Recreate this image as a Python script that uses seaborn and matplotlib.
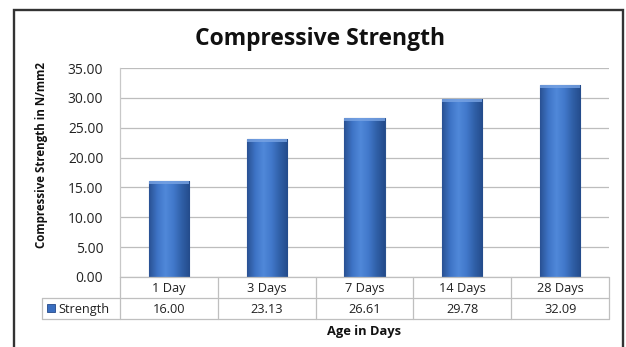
import numpy as np
import pandas as pd
import matplotlib
matplotlib.use("Agg")
import matplotlib.pyplot as plt
from matplotlib.patches import Rectangle
from matplotlib.lines import Line2D
from matplotlib.colors import LinearSegmentedColormap
import seaborn as sns

categories = ["1 Day", "3 Days", "7 Days", "14 Days", "28 Days"]
strength = [16.00, 23.13, 26.61, 29.78, 32.09]
series_name = "Strength"
yticks = [0, 5, 10, 15, 20, 25, 30, 35]

sns.set_theme(style="white")
plt.rcParams["font.family"] = ["Open Sans", "DejaVu Sans"]

W, H = 626, 347
fig = plt.figure(figsize=(W / 100, H / 100), dpi=100)
fig.patch.set_facecolor("white")

L, R, T, B = 120, 609, 68, 277
ax = fig.add_axes([L / W, 1 - B / H, (R - L) / W, (B - T) / H])

df = pd.DataFrame({"Age": categories, "Strength": strength})
sns.barplot(data=df, x="Age", y="Strength", ax=ax, width=0.41,
            color="#3A6EC0", edgecolor="#2A528F", linewidth=0.8, saturation=1)

# gradient shading on bars
cmap = LinearSegmentedColormap.from_list(
    "bar", ["#2A5294", "#3E74C6", "#5088D9", "#4279CB", "#3060A8", "#244C8C"])
grad = np.linspace(0, 1, 64).reshape(1, -1)
for p in ax.patches:
    x0, y0 = p.get_x(), p.get_y()
    w, h = p.get_width(), p.get_height()
    im = ax.imshow(grad, cmap=cmap, aspect="auto",
                   extent=[x0, x0 + w, y0, y0 + h], zorder=p.get_zorder() + 0.1)
    im.set_clip_path(p)
    ax.add_patch(Rectangle((x0, y0 + h - 0.45), w, 0.45, facecolor="#79A4E4",
                           edgecolor="none", zorder=p.get_zorder() + 0.2, alpha=0.8))
ax.set_xlim(-0.5, len(categories) - 0.5)
ax.set_ylim(0, 35)
ax.set_yticks(yticks)
ax.set_yticklabels([f"{v:.2f}" for v in yticks], fontsize=9.9, color="#222222")
ax.tick_params(axis="y", length=0, pad=12)
ax.set_xticks([])
ax.set_xlabel("")
ax.yaxis.grid(True, color="#BDBDBD", linewidth=0.9)
ax.set_axisbelow(True)
for s in ["top", "right", "bottom"]:
    ax.spines[s].set_visible(False)
ax.spines["left"].set_color("#C8C8C8")
ax.spines["left"].set_linewidth(0.9)

ax.set_ylabel("Compressive Strength in N/mm2", fontsize=8.3, fontweight="bold",
              color="#111111")
ax.yaxis.set_label_coords((48 - L) / (R - L), (B - 155) / (B - T))

# data table drawn below the axes (x in data units, y in pixels from top)
def fy(py):
    return 1 - py / H

tcolor = "#BFBFBF"
xl = 42 / W
edges_data = [i - 0.5 for i in range(len(categories) + 1)]
to_fig = lambda xd: fig.transFigure.inverted().transform(ax.transData.transform((xd, 0)))[0]
edges_fig = [to_fig(e) for e in edges_data]
# horizontal lines
fig.add_artist(Line2D([edges_fig[0], edges_fig[-1]], [fy(B), fy(B)], color=tcolor, lw=0.9))
fig.add_artist(Line2D([xl, edges_fig[-1]], [fy(298), fy(298)], color=tcolor, lw=0.9))
fig.add_artist(Line2D([xl, edges_fig[-1]], [fy(319), fy(319)], color=tcolor, lw=0.9))
# vertical lines
fig.add_artist(Line2D([xl, xl], [fy(298), fy(319)], color=tcolor, lw=0.9))
for e in edges_fig:
    fig.add_artist(Line2D([e, e], [fy(B), fy(319)], color=tcolor, lw=0.9))
for i, (cat, val) in enumerate(zip(categories, strength)):
    cx = to_fig(i)
    fig.text(cx, fy((B + 298) / 2 + 1), cat, ha="center", va="center",
             fontsize=9.2, color="#222222")
    fig.text(cx, fy((298 + 319) / 2 + 1), f"{val:.2f}", ha="center", va="center",
             fontsize=9.2, color="#222222")
fig.text(58 / W, fy((298 + 319) / 2 + 1), series_name, ha="left", va="center",
         fontsize=9.2, color="#222222")
fig.add_artist(Rectangle((47 / W, fy(312)), 8 / W, 8 / H, transform=fig.transFigure,
                         facecolor="#3A6EC0", edgecolor="#24498A", linewidth=0.6))

fig.text(320 / W, fy(39), "Compressive Strength", ha="center", va="center",
         fontsize=16.5, fontweight="bold", color="#111111")
fig.text(364 / W, fy(331), "Age in Days", ha="center", va="center",
         fontsize=9.3, fontweight="bold", color="#111111")

# outer frame
fig.add_artist(Rectangle((14 / W, -0.05), (623 - 14) / W, 1.05 - 10 / H,
                         transform=fig.transFigure, fill=False,
                         edgecolor="#333333", linewidth=1.7))

fig.savefig("out.png", dpi=100, facecolor="white")
